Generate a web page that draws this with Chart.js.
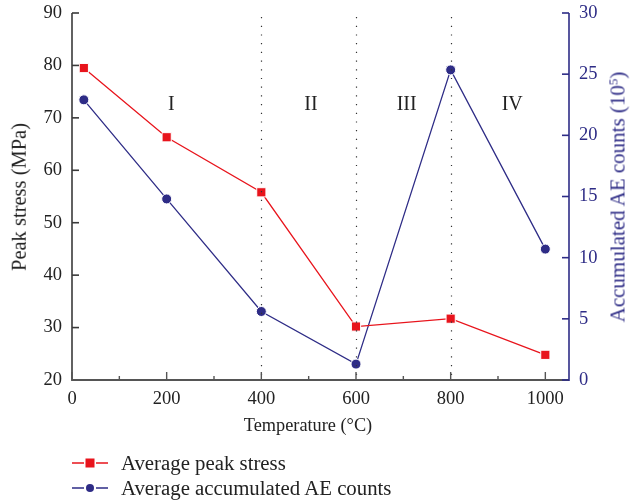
<!DOCTYPE html>
<html>
<head>
<meta charset="utf-8">
<script src="https://cdn.jsdelivr.net/npm/chart.js@4"></script>
<style>
  html, body { margin: 0; padding: 0; background: #fff; }
  #wrap { position: relative; width: 630px; height: 502px; font-family: "Liberation Serif", "Times New Roman", serif; }
  #chartBox { position: absolute; left: 0; top: 0; width: 630px; height: 440px; }
  .ttl { position: absolute; white-space: nowrap; line-height: 1; }
  #xTitle { left: 308px; top: 416px; transform: translateX(-50%); color: #222; font-size: 18.3px; }
  #yTitle { left: 19px; top: 197px; transform: translate(-50%, -50%) rotate(-90deg); color: #222; font-size: 20.5px; }
  #y2Title { left: 618px; top: 197px; transform: translate(-50%, -50%) rotate(-90deg); color: #2e2c86; font-size: 21px; }
  #y2Title sup { font-size: 13px; vertical-align: 7px; line-height: 0; }
  #legend { position: absolute; left: 72px; top: 450px; font-size: 20.8px; color: #222; }
  .li { height: 25.5px; display: flex; align-items: center; }
  .li canvas { margin-right: 13px; }
</style>
</head>
<body>
<div id="wrap">
  <div id="chartBox"><canvas id="c" width="630" height="440"></canvas></div>
  <div class="ttl" id="xTitle">Temperature (°C)</div>
  <div class="ttl" id="yTitle">Peak stress (MPa)</div>
  <div class="ttl" id="y2Title">Accumulated AE counts (10<sup>5</sup>)</div>
  <div id="legend"></div>
</div>
<script>
// ---- data ----
const temperatures = [25, 200, 400, 600, 800, 1000];
const peakStress = [79.5, 66.3, 55.8, 30.2, 31.7, 24.8];
const aeCounts = [22.9, 14.8, 5.6, 1.3, 25.35, 10.7];
const seriesNames = ['Average peak stress', 'Average accumulated AE counts'];
const xTicks = [0, 200, 400, 600, 800, 1000];
const xMinorTicks = [100, 300, 500, 700, 900];
const yLeftTicks = [20, 30, 40, 50, 60, 70, 80, 90];
const yRightTicks = [0, 5, 10, 15, 20, 25, 30];
const boundaryTemps = [400, 600, 800];
const regionLabels = ['I', 'II', 'III', 'IV'];
const regionLabelX = [210, 505, 707, 930];
const regionLabelY = 72.5;

const RED = '#e8141c';
const BLUE = '#2e2c86';
const FONT = '"Liberation Serif", "Times New Roman", serif';

const axisPlugin = {
  id: 'axisDeco',
  afterDatasetsDraw(chart) {
    const {ctx, chartArea: a, scales} = chart;
    const x = scales.x, yl = scales.y, yr = scales.y2;
    ctx.save();
    // dotted boundaries
    ctx.strokeStyle = '#333';
    ctx.lineWidth = 1.2;
    ctx.setLineDash([1.2, 7.5]);
    boundaryTemps.forEach(t => {
      const px = Math.round(x.getPixelForValue(t)) + 0.5;
      ctx.beginPath(); ctx.moveTo(px, a.top + 4); ctx.lineTo(px, a.bottom); ctx.stroke();
    });
    ctx.setLineDash([]);
    // region labels
    ctx.fillStyle = '#222';
    ctx.font = '20px ' + FONT;
    ctx.textAlign = 'center'; ctx.textBaseline = 'middle';
    regionLabels.forEach((l, i) => {
      ctx.fillText(l, x.getPixelForValue(regionLabelX[i]), yl.getPixelForValue(regionLabelY));
    });
    // left axis
    ctx.strokeStyle = '#3a3a3a'; ctx.lineWidth = 1.6;
    ctx.beginPath(); ctx.moveTo(a.left, a.top); ctx.lineTo(a.left, a.bottom + 1); ctx.stroke();
    yLeftTicks.forEach(v => {
      const py = yl.getPixelForValue(v);
      ctx.beginPath(); ctx.moveTo(a.left, py); ctx.lineTo(a.left + 7, py); ctx.stroke();
    });
    // bottom axis
    ctx.strokeStyle = '#555'; ctx.lineWidth = 2;
    ctx.beginPath(); ctx.moveTo(a.left, a.bottom); ctx.lineTo(a.right, a.bottom); ctx.stroke();
    ctx.lineWidth = 1.4;
    xTicks.forEach(v => {
      const px = x.getPixelForValue(v);
      ctx.beginPath(); ctx.moveTo(px, a.bottom); ctx.lineTo(px, a.bottom - 8); ctx.stroke();
    });
    xMinorTicks.forEach(v => {
      const px = x.getPixelForValue(v);
      ctx.beginPath(); ctx.moveTo(px, a.bottom); ctx.lineTo(px, a.bottom - 4); ctx.stroke();
    });
    // right axis
    ctx.strokeStyle = BLUE; ctx.lineWidth = 1.6;
    ctx.beginPath(); ctx.moveTo(a.right, a.top); ctx.lineTo(a.right, a.bottom + 1); ctx.stroke();
    yRightTicks.forEach(v => {
      const py = yr.getPixelForValue(v);
      ctx.beginPath(); ctx.moveTo(a.right, py); ctx.lineTo(a.right - 7, py); ctx.stroke();
    });
    ctx.restore();
  }
};

const plainNum = v => String(v);
const fitY = w => s => { s.width = w; s.paddingTop = 0; s.paddingBottom = 0; };

const chart = new Chart(document.getElementById('c'), {
  type: 'line',
  data: {
    datasets: [
      {
        label: seriesNames[0],
        data: temperatures.map((t, i) => ({x: t, y: peakStress[i]})),
        yAxisID: 'y',
        borderColor: RED, backgroundColor: RED,
        borderWidth: 1.3,
        pointStyle: 'rect', pointRadius: 6.5,
        pointBorderColor: '#fff', pointBorderWidth: 1,
        pointBackgroundColor: RED,
        tension: 0
      },
      {
        label: seriesNames[1],
        data: temperatures.map((t, i) => ({x: t, y: aeCounts[i]})),
        yAxisID: 'y2',
        borderColor: BLUE, backgroundColor: BLUE,
        borderWidth: 1.3,
        pointStyle: 'circle', pointRadius: 5,
        pointBorderColor: '#fff', pointBorderWidth: 1,
        pointBackgroundColor: BLUE,
        tension: 0
      }
    ]
  },
  options: {
    responsive: false,
    animation: false,
    events: [],
    layout: { padding: { top: 13, left: 0, right: 0, bottom: 0 } },
    plugins: { legend: { display: false }, tooltip: { enabled: false } },
    scales: {
      x: {
        type: 'linear', min: 0, max: 1050,
        grid: { display: false, drawTicks: false },
        border: { display: false },
        afterBuildTicks: s => { s.ticks = xTicks.map(v => ({value: v})); },
        afterFit: s => { s.height = 60; s.paddingLeft = 0; s.paddingRight = 0; },
        ticks: { color: '#222', font: { family: FONT, size: 18.5 }, padding: 8, maxRotation: 0, callback: plainNum }
      },
      y: {
        type: 'linear', position: 'left', min: 20, max: 90,
        grid: { display: false, drawTicks: false },
        border: { display: false },
        afterBuildTicks: s => { s.ticks = yLeftTicks.map(v => ({value: v})); },
        afterFit: fitY(72),
        ticks: { color: '#222', font: { family: FONT, size: 18.5 }, padding: 10, callback: plainNum }
      },
      y2: {
        type: 'linear', position: 'right', min: 0, max: 30,
        grid: { display: false, drawTicks: false },
        border: { display: false },
        afterBuildTicks: s => { s.ticks = yRightTicks.map(v => ({value: v})); },
        afterFit: fitY(61),
        ticks: { color: BLUE, font: { family: FONT, size: 18.5 }, padding: 10, callback: plainNum }
      }
    }
  },
  plugins: [axisPlugin]
});

// legend (HTML text with small canvas samples)
const legend = document.getElementById('legend');
chart.data.datasets.forEach(ds => {
  const row = document.createElement('div'); row.className = 'li';
  const cv = document.createElement('canvas'); cv.width = 36; cv.height = 14;
  const g = cv.getContext('2d');
  g.strokeStyle = ds.borderColor; g.lineWidth = 1.3;
  g.beginPath(); g.moveTo(0, 7); g.lineTo(12, 7); g.moveTo(24, 7); g.lineTo(36, 7); g.stroke();
  g.fillStyle = ds.pointBackgroundColor;
  if (ds.pointStyle === 'rect') { g.fillRect(13.5, 2.5, 9, 9); }
  else { g.beginPath(); g.arc(18, 7, 4, 0, Math.PI * 2); g.fill(); }
  const sp = document.createElement('span'); sp.textContent = ds.label;
  row.appendChild(cv); row.appendChild(sp);
  legend.appendChild(row);
});
</script>
</body>
</html>
